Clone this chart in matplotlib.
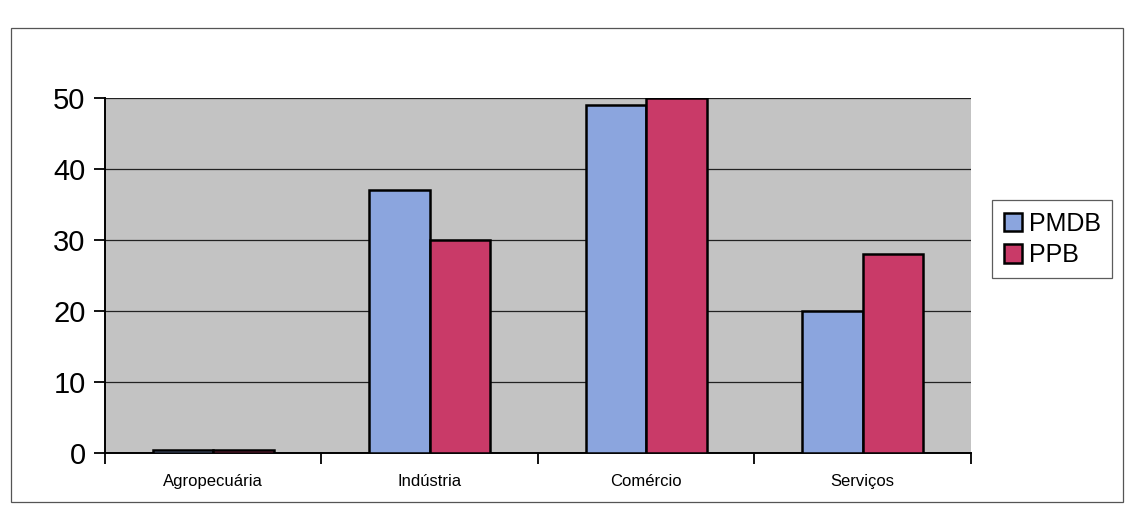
import matplotlib.pyplot as plt
import numpy as np
from matplotlib.patches import Rectangle

setores = ['Agropecuária', 'Indústria', 'Comércio', 'Serviços']
pmdb = [0.5, 37, 49, 20]
ppb = [0.5, 30, 50, 28]
yticks = [0, 10, 20, 30, 40, 50]

plt.rcParams['font.family'] = ['Liberation Sans', 'DejaVu Sans']

fig = plt.figure(figsize=(11.29, 5.15), dpi=100)
fig.patch.set_facecolor('white')

# outer chart frame
fig.patches.append(Rectangle((0.010, 0.025), 0.985, 0.92, transform=fig.transFigure,
                             fill=False, edgecolor='#555555', linewidth=0.9))

ax = fig.add_axes([0.093, 0.12, 0.767, 0.69])
ax.set_facecolor('#c3c3c3')

x = np.arange(len(setores))
w = 0.28
ax.bar(x - w / 2, pmdb, w, color='#8ba5de', edgecolor='black', linewidth=1.8,
       label='PMDB', zorder=3)
ax.bar(x + w / 2, ppb, w, color='#c93a68', edgecolor='black', linewidth=1.8,
       label='PPB', zorder=3)

ax.set_ylim(0, 50)
ax.set_xlim(-0.5, len(setores) - 0.5)
ax.set_yticks(yticks)
ax.yaxis.grid(True, color='#222222', linewidth=0.9, zorder=1)
ax.tick_params(axis='y', labelsize=21, length=8, width=1.3, pad=6, direction='out')

ax.set_xticks(x)
ax.set_xticklabels(setores, fontsize=12)
ax.set_xticks(np.arange(-0.5, len(setores)), minor=True)
ax.tick_params(axis='x', which='major', length=0, pad=15)
ax.tick_params(axis='x', which='minor', length=8, width=1.3, direction='out')

for side in ['top', 'right']:
    ax.spines[side].set_visible(False)
ax.spines['left'].set_linewidth(1.4)
ax.spines['bottom'].set_linewidth(1.4)

leg = fig.legend(loc='center left', bbox_to_anchor=(0.868, 0.535), fontsize=18,
                 frameon=True, fancybox=False, edgecolor='#333333',
                 handlelength=0.75, handleheight=0.75, handletextpad=0.25,
                 borderpad=0.45, labelspacing=0.3)
leg.get_frame().set_linewidth(0.9)
for h in leg.legend_handles:
    h.set_linewidth(1.8)

plt.savefig('out.png', dpi=100)
